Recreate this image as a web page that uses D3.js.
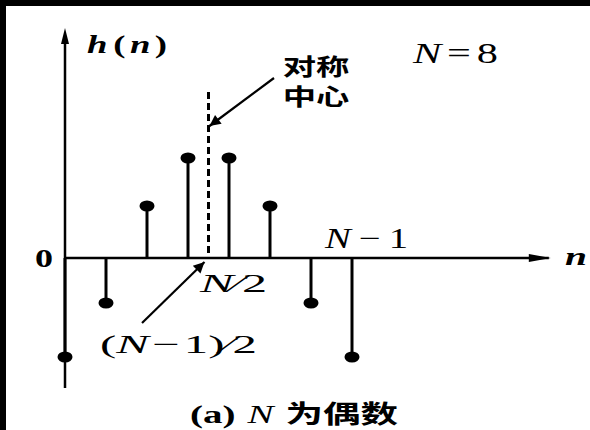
<!DOCTYPE html>
<html>
<head>
<meta charset="utf-8">
<script src="https://cdn.jsdelivr.net/npm/d3@7"></script>
<style>
  body { margin: 0; background: #fff; }
</style>
</head>
<body>
<script>
// stem values h(n), N = 8 (symmetric)
var nValues = [0, 1, 2, 3, 4, 5, 6, 7];
var hValues = [-0.99, -0.45, 0.52, 1.0, 1.0, 0.52, -0.45, -0.99];
var annotation = ["对称", "中心"];
var caption = "为偶数";

var serif = "'Liberation Serif', 'DejaVu Serif', serif";
var cjk = "'Noto Sans CJK SC', sans-serif";

var svgWidth = 590;
var svgHeight = 430;

var svg = d3.select("body")
  .append("svg")
  .attr("width", svgWidth)
  .attr("height", svgHeight);

// black frame on top / left like the scan
svg.append("rect").attr("width", svgWidth).attr("height", svgHeight).attr("fill", "#000");
svg.append("rect").attr("x", 6).attr("y", 6).attr("width", svgWidth).attr("height", svgHeight).attr("fill", "#fff");

var x = d3.scaleLinear().domain([0, 7]).range([65, 352]);
var y = d3.scaleLinear().domain([-1.3, 2.3]).range([388, 28]);

var defs = svg.append("defs");
defs.append("marker")
  .attr("id", "head")
  .attr("viewBox", "0 0 10 10")
  .attr("refX", 10).attr("refY", 5)
  .attr("markerWidth", 7).attr("markerHeight", 5)
  .attr("markerUnits", "strokeWidth")
  .attr("orient", "auto")
  .append("path").attr("d", "M0,0L10,5L0,10Z").attr("fill", "#000");

var g = svg.append("g");

// axes
g.append("line")
  .attr("x1", x(0)).attr("x2", x(11.8))
  .attr("y1", y(0)).attr("y2", y(0))
  .attr("stroke", "#000").attr("stroke-width", 2.5);
g.append("path")
  .attr("d", `M${x(11.8) + 2},${y(0)}L${x(11.8) - 20},${y(0) - 4}L${x(11.8) - 20},${y(0) + 4}Z`)
  .attr("fill", "#000");

g.append("line")
  .attr("x1", x(0)).attr("x2", x(0))
  .attr("y1", y(-1.3)).attr("y2", y(2.2))
  .attr("stroke", "#000").attr("stroke-width", 2.5);
g.append("path")
  .attr("d", `M${x(0)},${y(2.3)}L${x(0) - 4},${y(2.3) + 16}L${x(0) + 4},${y(2.3) + 16}Z`)
  .attr("fill", "#000");

// symmetry centre
g.append("line")
  .attr("x1", x(3.5)).attr("x2", x(3.5))
  .attr("y1", y(1.66)).attr("y2", y(0))
  .attr("stroke", "#000").attr("stroke-width", 3)
  .attr("stroke-dasharray", "7,4");

// stems
g.selectAll(".stem")
  .data(nValues)
  .enter()
  .append("line")
  .attr("class", "stem")
  .attr("x1", d => x(d)).attr("x2", d => x(d))
  .attr("y1", y(0)).attr("y2", (d, i) => y(hValues[i]))
  .attr("stroke", "#000").attr("stroke-width", 3);

g.selectAll(".dot")
  .data(nValues)
  .enter()
  .append("ellipse")
  .attr("class", "dot")
  .attr("cx", d => x(d))
  .attr("cy", (d, i) => y(hValues[i]))
  .attr("rx", 7.5).attr("ry", 5.5)
  .attr("fill", "#000");

// arrows
g.append("line")
  .attr("x1", 274).attr("y1", 78)
  .attr("x2", x(3.5) + 1).attr("y2", 126)
  .attr("stroke", "#000").attr("stroke-width", 2.2)
  .attr("marker-end", "url(#head)");
g.append("line")
  .attr("x1", 142).attr("y1", 323)
  .attr("x2", x(3.5) - 4).attr("y2", y(0) + 4)
  .attr("stroke", "#000").attr("stroke-width", 2.2)
  .attr("marker-end", "url(#head)");

// labels (the scan is stretched sideways, so text gets a fixed length)
function label(px, py, size, len) {
  return svg.append("text")
    .attr("font-family", serif)
    .attr("x", px).attr("y", py)
    .attr("font-size", size)
    .attr("textLength", len)
    .attr("lengthAdjust", "spacingAndGlyphs");
}

var hl = label(87, 53, 25, 80).attr("font-weight", "bold");
hl.append("tspan").attr("font-style", "italic").text("h");
hl.append("tspan").attr("dx", 4).text("(");
hl.append("tspan").attr("dx", 3).attr("font-style", "italic").text("n");
hl.append("tspan").attr("dx", 3).text(")");

label(565, 265, 26, 22).attr("font-weight", "bold").attr("font-style", "italic").text("n");

label(35, 267, 25, 18).attr("font-weight", "bold").text("0");

var n8 = label(413, 63, 29, 85);
n8.append("tspan").attr("font-style", "italic").text("N");
n8.append("tspan").attr("dx", 4).text("=");
n8.append("tspan").attr("dx", 4).text("8");

var nm1 = label(325, 248, 29, 83);
nm1.append("tspan").attr("font-style", "italic").text("N");
nm1.append("tspan").attr("dx", 6).text("−");
nm1.append("tspan").attr("dx", 6).text("1");

var nh = label(200, 292, 26, 67);
nh.append("tspan").attr("font-style", "italic").text("N");
nh.append("tspan").text("∕2");

var nh2 = label(100, 353, 26, 157);
nh2.append("tspan").text("(");
nh2.append("tspan").attr("font-style", "italic").text("N");
nh2.append("tspan").attr("dx", 2).text("−");
nh2.append("tspan").attr("dx", 2).text("1)∕2");

var ann = svg.append("g").attr("transform", "translate(316,0) scale(1.45,1)");
ann.selectAll("text")
  .data(annotation)
  .enter()
  .append("text")
  .attr("font-family", cjk).attr("font-weight", "bold")
  .attr("x", 0)
  .attr("y", (d, i) => 75 + i * 30)
  .attr("text-anchor", "middle")
  .attr("font-size", 23)
  .text(d => d);

var cap = label(190, 423, 26, 208);
cap.append("tspan").attr("font-weight", "bold").text("(a)");
cap.append("tspan").attr("dx", 8).attr("font-style", "italic").text("N");
cap.append("tspan").attr("font-family", cjk).attr("font-weight", "bold").attr("dx", 8).attr("font-size", 25).text(caption);
</script>
</body>
</html>
